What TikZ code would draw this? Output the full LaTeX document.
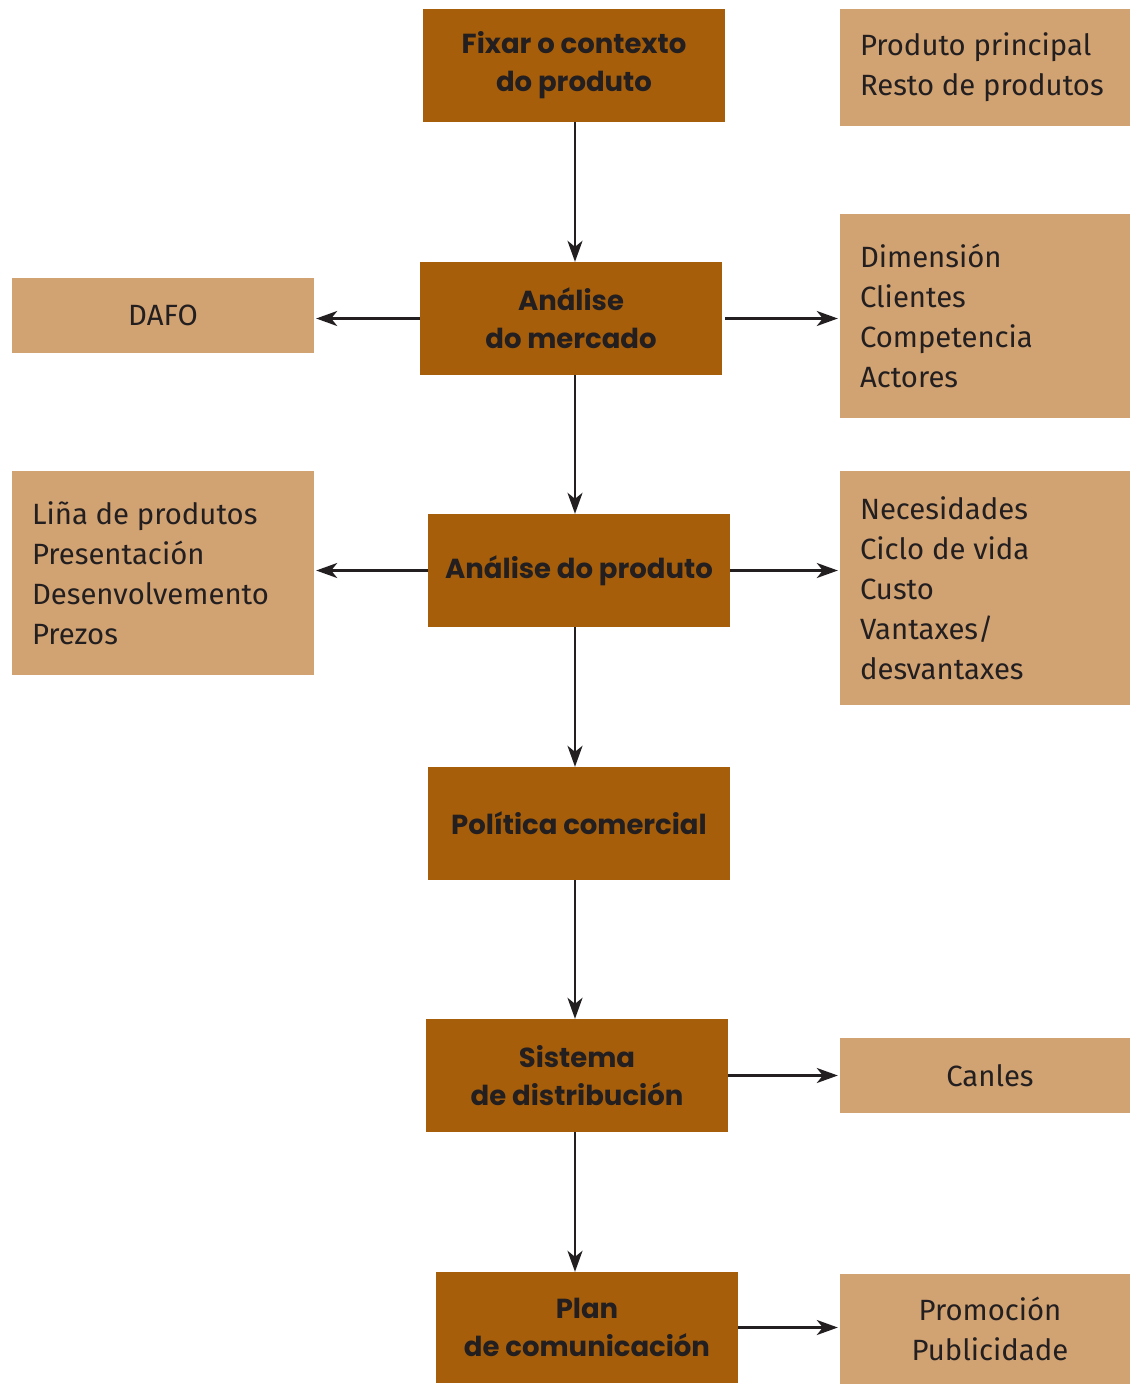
\documentclass[tikz,border=0pt]{standalone}
\usepackage{fontspec}
\setmainfont{Fira Sans}
\newfontfamily\headfont{Poppins}
\usetikzlibrary{arrows.meta}
\definecolor{boxdark}{HTML}{A65E0B}
\definecolor{boxlight}{HTML}{D1A272}
\definecolor{ink}{HTML}{231F20}
% keep every listed item on one line
\hyphenpenalty=10000\relax
\exhyphenpenalty=10000\relax
\tikzset{
  stage/.style={fill=boxdark, minimum width=302pt, minimum height=113pt,
    inner sep=0pt, align=center, text=ink,
    font=\headfont\bfseries\fontsize{27.5}{38}\selectfont},
  note/.style={fill=boxlight, inner xsep=20pt, inner ysep=0pt,
    align=flush left, text=ink, font=\fontsize{29.3}{40}\selectfont},
  notec/.style={fill=boxlight, inner sep=0pt, align=center, text=ink,
    font=\fontsize{29.3}{40}\selectfont},
  flow/.style={draw=ink, line width=2.4pt,
    -{Stealth[length=21pt, width=15pt, inset=6pt]}},
}
\begin{document}
\begin{tikzpicture}[x=1pt, y=-1pt]
  \useasboundingbox (0,0) rectangle (1130,1384);

  % main sequence
  \node[stage] (fix) at (574,65.5) {Fixar o contexto\\do produto};
  \node[stage] (merc) at (571,318.5) {Análise\\do mercado};
  \node[stage] (prod) at (579,570.5) {Análise do produto};
  \node[stage] (pol) at (579,823.5) {Política comercial};
  \node[stage] (dist) at (577,1075.5) {Sistema\\de distribución};
  \node[stage, minimum height=111pt] (com) at (587,1327.5) {Plan\\de comunicación};

  % side notes
  \node[note, text width=250pt, minimum height=117pt] (ctx) at (985,67.5)
    {Produto principal\\Resto de produtos};
  \node[notec, minimum width=302pt, minimum height=75pt] (dafo) at (163,315.5) {DAFO};
  \node[note, text width=250pt, minimum height=204pt] (dim) at (985,316)
    {Dimensión\\Clientes\\Competencia\\Actores};
  \node[note, text width=262pt, minimum height=204pt] (lina) at (163,573)
    {Liña de produtos\\Presentación\\Desenvolvemento\\Prezos};
  \node[note, text width=250pt, minimum height=234pt] (nec) at (985,588)
    {Necesidades\\Ciclo de vida\\Custo\\Vantaxes/\\desvantaxes};
  \node[notec, minimum width=290pt, minimum height=75pt] (canles) at (985,1075.5) {\hspace*{10pt}Canles};
  \node[notec, minimum width=290pt, minimum height=110pt] (promo) at (985,1329)
    {\hspace*{10pt}Promoción\\\hspace*{10pt}Publicidade};

  % connectors
  \coordinate (spine) at (575,0);
  \draw[flow] (spine |- fix.south) -- (spine |- merc.north);
  \draw[flow] (spine |- merc.south) -- (spine |- prod.north);
  \draw[flow] (spine |- prod.south) -- (spine |- pol.north);
  \draw[flow] (spine |- pol.south) -- (spine |- dist.north);
  \draw[flow] (spine |- dist.south) -- (spine |- com.north);

  \draw[flow, shorten >=2pt] (merc.west) -- (dafo.east |- merc.west);
  \draw[flow, shorten >=2pt] (merc.east) ++(3pt,0) -- (dim.west |- merc.east);
  \draw[flow, shorten >=2pt] (prod.west) -- (lina.east |- prod.west);
  \draw[flow, shorten >=2pt] (prod.east) -- (nec.west |- prod.east);
  \draw[flow, shorten >=2pt] (dist.east) -- (canles.west |- dist.east);
  \draw[flow, shorten >=2pt] (com.east) -- (promo.west |- com.east);
\end{tikzpicture}
\end{document}
